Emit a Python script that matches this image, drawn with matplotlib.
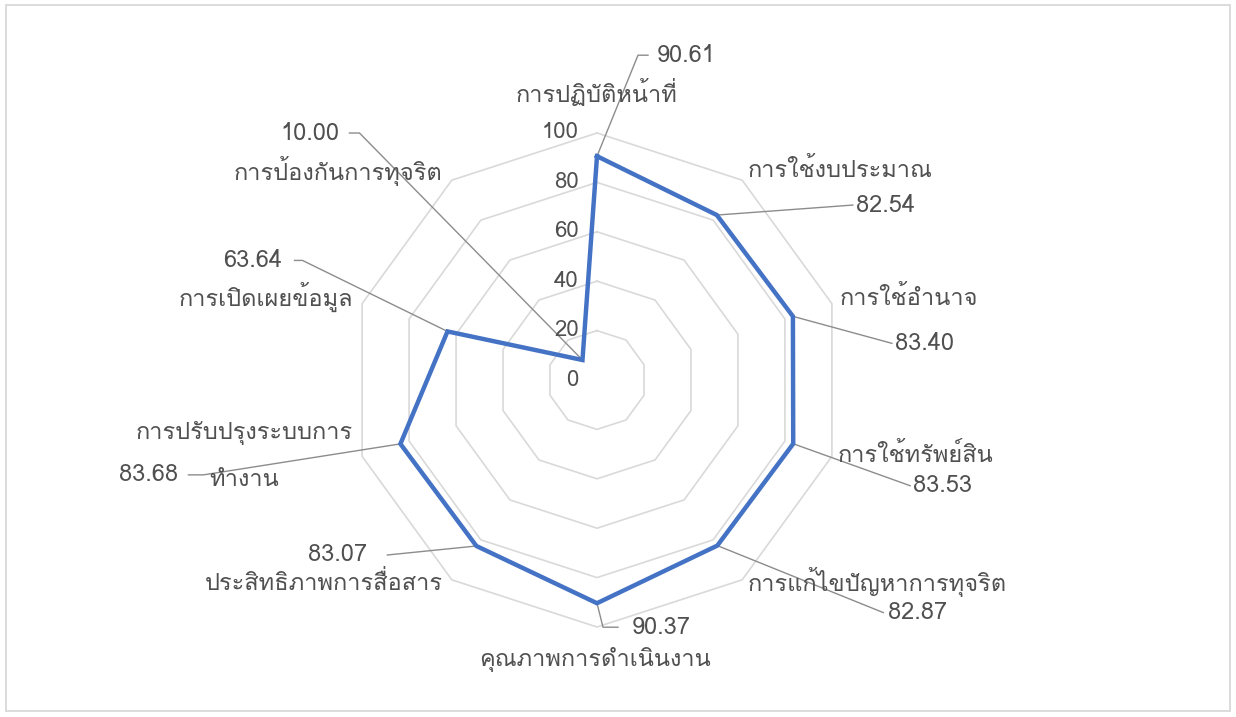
import numpy as np
import matplotlib
matplotlib.use("Agg")
import matplotlib.pyplot as plt
from matplotlib import font_manager, ft2font
from matplotlib.patches import Rectangle

# ---------------- data ----------------
categories = [
    "การปฏิบัติหน้าที่",
    "การใช้งบประมาณ",
    "การใช้อำนาจ",
    "การใช้ทรัพย์สิน",
    "การแก้ไขปัญหาการทุจริต",
    "คุณภาพการดำเนินงาน",
    "ประสิทธิภาพการสื่อสาร",
    "การปรับปรุงระบบการ\nทำงาน",
    "การเปิดเผยข้อมูล",
    "การป้องกันการทุจริต",
]
values = [90.61, 82.54, 83.40, 83.53, 82.87, 90.37, 83.07, 83.68, 63.64, 10.00]
tick_values = [0, 20, 40, 60, 80, 100]

# ---------------- Thai-capable font ----------------
def find_thai_font():
    prefer = ["Tahoma", "Leelawadee UI", "Leelawadee", "Loma", "Garuda", "Noto Sans Thai",
              "Sarabun", "Waree", "Umpush"]
    found = set()
    for f in font_manager.fontManager.ttflist:
        try:
            if 0x0E01 in ft2font.FT2Font(f.fname).get_charmap():
                found.add(f.name)
        except Exception:
            pass
    for p in prefer:
        if p in found:
            return p
    return sorted(found)[0] if found else None

thai = find_thai_font()
plt.rcParams["font.family"] = ([thai] if thai else []) + ["DejaVu Sans"]

W, H, DPI = 1236, 717, 100
cx, cy = 597, 380          # chart centre, pixels from top-left
scale = 2.47               # pixels per value unit

fig = plt.figure(figsize=(W / DPI, H / DPI), dpi=DPI)
ax = fig.add_axes([0, 0, 1, 1])
ax.set_xlim(-cx / scale, (W - cx) / scale)
ax.set_ylim(-(H - cy) / scale, cy / scale)
ax.axis("off")

fig.patches.append(Rectangle((6 / W, 6 / H), 1224 / W, 706 / H, transform=fig.transFigure,
                             fill=False, edgecolor="#D9D9D9", lw=1.3))

text_col = "#505050"
fs_num = 17
fs_tick = 16
fs_cat = 17

n = len(categories)
ang = np.arange(n) * 2 * np.pi / n

def xy(r, a):
    return r * np.sin(a), r * np.cos(a)

# grid decagons
for t in tick_values[1:]:
    gx, gy = xy(t, np.append(ang, ang[0]))
    ax.plot(gx, gy, color="#D9D9D9", lw=1.2, zorder=1)

# value-axis tick labels
for t in tick_values:
    ax.annotate(str(t), (0, t), xytext=(-18, 0), textcoords="offset pixels",
                ha="right", va="center", fontsize=fs_tick, color=text_col)

# series
vx, vy = xy(np.array(values), ang)
ax.plot(np.append(vx, vx[0]), np.append(vy, vy[0]), color="#4472C4", lw=3.2,
        solid_joinstyle="miter", zorder=3)

# category labels: (dx, dy) in screen pixels from outer vertex, alignment
cat_pos = [((0, -40), "center"), ((6, -10), "left"), ((8, -6), "left"), ((6, -1), "left"),
           ((6, 2), "left"), ((-2, 32), "center"), ((-9, 3), "right"), ((-9, 0), "right"),
           ((-9, -7), "right"), ((-9, -9), "right")]
line_h = 46
for i, c in enumerate(categories):
    ox, oy = xy(100, ang[i])
    (dx, dy), ha = cat_pos[i]
    lines = c.split("\n")
    if len(lines) == 1:
        ax.annotate(c, (ox, oy), xytext=(dx, -dy), textcoords="offset pixels",
                    ha=ha, va="center", fontsize=fs_cat, color=text_col, zorder=4)
    else:
        # first line right-aligned to the vertex, following lines centred under it
        t0 = ax.annotate(lines[0], (ox, oy), xytext=(dx, -dy + line_h / 2),
                         textcoords="offset pixels", ha=ha, va="center",
                         fontsize=fs_cat, color=text_col, zorder=4)
        fig.canvas.draw()
        bb = t0.get_window_extent()
        mid = (bb.x0 + bb.x1) / 2
        for k, ln in enumerate(lines[1:], start=1):
            ax.text(mid, bb.y0 + bb.height / 2 - k * line_h, ln, transform=None,
                    ha="center", va="center", fontsize=fs_cat, color=text_col, zorder=4)

# data labels: elbow offset (screen px), dash length, text gap, side
lab = [((41, -101), 10, 9, 1), ((136, -10), 0, 3, 1), ((99, 27), 0, 3, 1),
       ((117, 42), 0, 3, 1), ((166, 67), 0, 5, 1), ((6, 24), 15, 14, 1),
       ((-89, 9), 0, 20, -1), ((-197, 31), 15, 10, -1), ((-145, -71), 8, 12, -1),
       ((-223, -227), 10, 10, -1)]
for i, v in enumerate(values):
    px, py = vx[i], vy[i]
    (ex, ey), dash, gap, side = lab[i]
    x1, y1 = px + ex / scale, py - ey / scale
    x2 = x1 + side * dash / scale
    ax.plot([px, x1, x2], [py, y1, y1], color="#8C8C8C", lw=1.0, zorder=2)
    ax.annotate(f"{v:.2f}", (x2, y1), xytext=(side * gap, 0), textcoords="offset pixels",
                ha="left" if side > 0 else "right", va="center", fontsize=fs_num,
                color=text_col, zorder=4)

fig.savefig("out.png", dpi=DPI, facecolor="white")
